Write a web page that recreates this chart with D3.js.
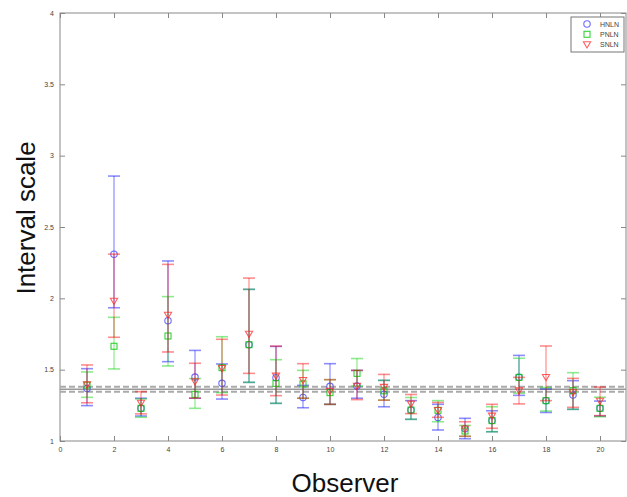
<!DOCTYPE html>
<html><head><meta charset="utf-8">
<script src="https://cdn.jsdelivr.net/npm/d3@7"></script>
<style>body{margin:0;background:#fff}svg{display:block;font-family:"Liberation Sans",Arial,sans-serif}</style>
</head><body><svg id="c" width="627" height="497"></svg>
<script>
const observers = d3.range(1, 21);
const hnMean = [1.368,2.309,1.229,1.843,1.448,1.404,1.675,1.444,1.305,1.383,1.385,1.327,1.217,1.165,1.086,1.143,1.446,1.283,1.322,1.229];
const hnLow  = [1.248,1.934,1.175,1.556,1.300,1.294,1.411,1.264,1.233,1.257,1.300,1.240,1.152,1.077,1.016,1.065,1.320,1.200,1.222,1.175];
const hnHigh = [1.507,2.857,1.300,2.262,1.635,1.540,2.063,1.663,1.390,1.542,1.495,1.425,1.283,1.257,1.159,1.212,1.600,1.365,1.423,1.280];
const pnMean = [1.392,1.664,1.229,1.736,1.327,1.514,1.675,1.404,1.400,1.339,1.474,1.352,1.217,1.215,1.070,1.143,1.446,1.283,1.353,1.229];
const pnLow  = [1.306,1.505,1.166,1.526,1.229,1.339,1.411,1.264,1.300,1.257,1.385,1.287,1.152,1.135,1.033,1.065,1.335,1.210,1.222,1.170];
const pnHigh = [1.484,1.867,1.295,2.012,1.438,1.731,2.063,1.570,1.495,1.430,1.578,1.425,1.305,1.283,1.109,1.240,1.580,1.375,1.479,1.307];
const snMean = [1.395,1.981,1.266,1.883,1.417,1.510,1.750,1.456,1.425,1.350,1.385,1.377,1.260,1.215,1.085,1.176,1.353,1.446,1.340,1.280];
const snLow  = [1.268,1.727,1.190,1.624,1.300,1.322,1.474,1.318,1.300,1.257,1.290,1.286,1.192,1.166,1.033,1.089,1.260,1.283,1.236,1.178];
const snHigh = [1.533,2.310,1.346,2.238,1.545,1.713,2.142,1.665,1.542,1.430,1.495,1.467,1.326,1.270,1.135,1.257,1.446,1.666,1.439,1.378];
const refMean = 1.362, refLow = 1.345, refHigh = 1.380;
const xTicks = [0,2,4,6,8,10,12,14,16,18,20];
const yTicks = [1,1.5,2,2.5,3,3.5,4];
const yTickLabels = ["1","1.5","2","2.5","3","3.5","4"];
const seriesNames = ["HNLN","PNLN","SNLN"];

const svg = d3.select("#c");
const L = 60, R = 626, T = 13, B = 441;
const x = d3.scaleLinear().domain([0,21]).range([L, R + 1]);
const y = d3.scaleLinear().domain([1,4]).range([B, T]);
const axisCol = "#888";

// frame
svg.append("rect").attr("x", L).attr("y", T).attr("width", R - L).attr("height", B - T)
  .attr("fill", "none").attr("stroke", axisCol).attr("stroke-width", 1);

// axes
const gx = svg.append("g").attr("transform", `translate(0,${B})`)
  .call(d3.axisBottom(x).tickValues(xTicks).tickSize(-5).tickPadding(6).tickFormat(d3.format("d")));
const gxt = svg.append("g").attr("transform", `translate(0,${T})`)
  .call(d3.axisTop(x).tickValues(xTicks).tickSize(-5).tickFormat(""));
const gy = svg.append("g").attr("transform", `translate(${L},0)`)
  .call(d3.axisLeft(y).tickValues(yTicks).tickSize(-5).tickPadding(6).tickFormat((d,i) => yTickLabels[i]));
const gyr = svg.append("g").attr("transform", `translate(${R},0)`)
  .call(d3.axisRight(y).tickValues(yTicks).tickSize(-5).tickFormat(""));
[gx,gxt,gy,gyr].forEach(g => {
  g.select(".domain").remove();
  g.selectAll("line").attr("stroke", axisCol);
  g.selectAll("text").attr("fill", "#444").attr("font-size", 7).attr("font-family", '"Liberation Sans",Arial,sans-serif');
});

// reference lines
svg.append("line").attr("x1", L).attr("x2", R).attr("y1", y(refMean)).attr("y2", y(refMean))
  .attr("stroke", "#999").attr("stroke-width", 1.5);
[refLow, refHigh].forEach(v => svg.append("line").attr("x1", L).attr("x2", R).attr("y1", y(v)).attr("y2", y(v))
  .attr("stroke", "#aaa").attr("stroke-width", 2).attr("stroke-dasharray", "6,3"));

const series = [
  {name: seriesNames[0], mean: hnMean, lo: hnLow, hi: hnHigh, col: "rgba(0,0,255,0.45)", mcol: "rgba(60,60,255,0.75)", shape: "circle"},
  {name: seriesNames[1], mean: pnMean, lo: pnLow, hi: pnHigh, col: "rgba(0,210,0,0.45)", mcol: "rgba(0,200,0,0.8)", shape: "square"},
  {name: seriesNames[2], mean: snMean, lo: snLow, hi: snHigh, col: "rgba(255,0,0,0.45)", mcol: "rgba(255,40,40,0.75)", shape: "tri"}
];
const cw = 6;
function marker(g, shape, cx, cy, col) {
  if (shape === "circle") g.append("circle").attr("cx", cx).attr("cy", cy).attr("r", 3.2).attr("fill", "none").attr("stroke", col).attr("stroke-width", 1.1);
  else if (shape === "square") g.append("rect").attr("x", cx - 3).attr("y", cy - 3).attr("width", 6).attr("height", 6).attr("fill", "none").attr("stroke", col).attr("stroke-width", 1.1);
  else g.append("path").attr("d", `M${cx-3.6},${cy-2.8} L${cx+3.6},${cy-2.8} L${cx},${cy+3.4} Z`).attr("fill", "none").attr("stroke", col).attr("stroke-width", 1.1);
}
series.forEach(s => {
  const g = svg.append("g");
  observers.forEach((o, i) => {
    const cx = x(o);
    g.append("line").attr("x1", cx).attr("x2", cx).attr("y1", y(s.lo[i])).attr("y2", y(s.hi[i])).attr("stroke", s.col).attr("stroke-width", 1.2);
    [s.lo[i], s.hi[i]].forEach(v => g.append("line").attr("x1", cx - cw).attr("x2", cx + cw).attr("y1", y(v)).attr("y2", y(v)).attr("stroke", s.col).attr("stroke-width", 1.6));
    marker(g, s.shape, cx, y(s.mean[i]), s.mcol);
  });
});

// legend
const lg = svg.append("g");
lg.append("rect").attr("x", 571).attr("y", 17).attr("width", 53).attr("height", 35).attr("fill", "#fff").attr("stroke", "#777").attr("stroke-width", 1);
series.forEach((s, i) => {
  const ly = 24 + i * 10.3;
  marker(lg, s.shape, 587, ly, s.mcol);
  lg.append("text").attr("x", 600).attr("y", ly + 2.5).attr("font-size", 7).attr("fill", "#444").text(s.name);
});

// axis titles
svg.append("text").attr("x", 345).attr("y", 492).attr("text-anchor", "middle").attr("font-size", 26).attr("fill", "#111").text("Observer");
svg.append("text").attr("transform", "translate(35,218) rotate(-90)").attr("text-anchor", "middle").attr("font-size", 26).attr("fill", "#111").text("Interval scale");
</script></body></html>
